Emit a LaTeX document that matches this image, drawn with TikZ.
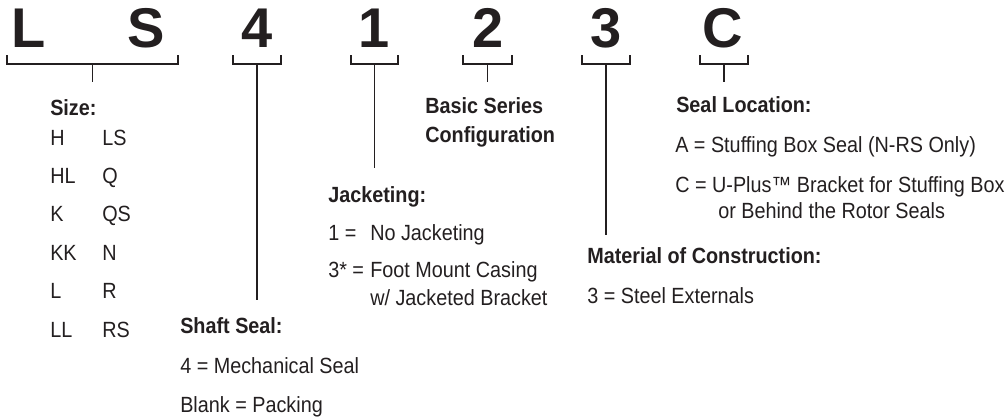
\documentclass[tikz,border=0pt]{standalone}
\usepackage{fontspec}
\setmainfont{Liberation Sans}[FakeStretch=0.9]
\newfontfamily\codefont{Liberation Sans}
\usetikzlibrary{positioning}
\definecolor{ink}{HTML}{231F20}

\tikzset{
  code/.style={font=\codefont\fontsize{42}{42}\selectfont\bfseries, anchor=base, inner sep=0pt, text=ink},
  hdr/.style={font=\fontsize{16.5}{18}\selectfont\bfseries, anchor=base west, inner sep=0pt, text=ink},
  lbl/.style={font=\fontsize{16.5}{18}\selectfont, anchor=base west, inner sep=0pt, text=ink},
  brk/.style={line width=1.2pt, draw=ink},
}
% bracket: left x, right x, name of middle coordinate
\newcommand{\brkt}[3]{\draw[brk] (#1,55) -- (#1,64) -- (#2,64) -- (#2,55);
  \coordinate (#3) at ({(#1+#2)/2},64);}

\begin{document}
\begin{tikzpicture}[x=0.75pt,y=-0.75pt]
\useasboundingbox (0,0) rectangle (1005,419);

% code letters
\node[code] (cL) at (29,47) {L};
\node[code] (cS) at (146,47) {S};
\node[code] (c4) at (257,47) {4};
\node[code] (c1) at (374,47) {1};
\node[code] (c2) at (488,47) {2};
\node[code] (c3) at (606,47) {3};
\node[code] (cC) at (723,47) {C};

% brackets
\brkt{7}{178}{bSize}
\brkt{233}{281}{bShaft}
\brkt{351}{398}{bJack}
\brkt{463}{512}{bBasic}
\brkt{582}{630}{bMat}
\brkt{700}{748}{bSeal}

% stems
\coordinate (eSize) at (bSize |- 0,82);
\coordinate (eShaft) at (bShaft |- 0,300);
\coordinate (eJack) at (bJack |- 0,168);
\coordinate (eBasic) at (bBasic |- 0,82);
\coordinate (eMat) at (bMat |- 0,235);
\coordinate (eSeal) at (bSeal |- 0,82);
\foreach \s in {Size,Shaft,Jack,Basic,Mat,Seal}
  \draw[brk] (b\s) -- (e\s);

% size
\node[hdr] (tSize) at (50,115) {Size:};
\foreach \a/\b [count=\i from 0] in {H/LS,HL/Q,K/QS,KK/N,L/R,LL/RS}{
  \node[lbl] (sa\i) at (50,{145+38.4*\i}) {\a};
  \node[lbl] (sb\i) at (102,{145+38.4*\i}) {\b};
}

% shaft seal
\node[hdr] (tShaft) at (180,333) {Shaft Seal:};
\node[lbl] (sh1) at (180,373) {4 = Mechanical Seal};
\node[lbl] (sh2) at (180,412) {Blank = Packing};

% jacketing
\node[hdr] (tJack) at (328,202) {Jacketing:};
\node[lbl] (j1) at (328,240) {1 =};
\node[lbl] (j1t) at (370,240) {No Jacketing};
\node[lbl] (j3) at (328,277) {3* =};
\node[lbl] (j3t) at (370,277) {Foot Mount Casing};
\node[lbl] (j3u) at (370,305) {w/ Jacketed Bracket};

% basic series
\node[hdr] (tBasic) at (425,113) {Basic Series};
\node[hdr] (tBasic2) at (425,142) {Configuration};

% material
\node[hdr] (tMat) at (587,263) {Material of Construction:};
\node[lbl] (m1) at (587,303) {3 = Steel Externals};

% seal location
\node[hdr] (tSeal) at (676,112) {Seal Location:};
\node[lbl] (l1) at (675,152) {A = Stuffing Box Seal (N-RS Only)};
\node[lbl] (l2) at (675,192) {C = U-Plus™ Bracket for Stuffing Box};
\node[lbl] (l3) at (718,218) {or Behind the Rotor Seals};
\end{tikzpicture}
\end{document}
